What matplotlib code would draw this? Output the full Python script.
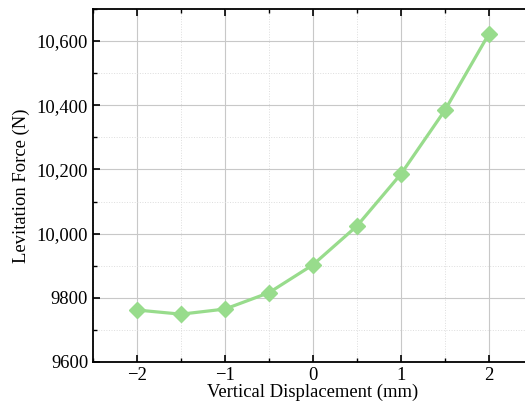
import numpy as np
import matplotlib
matplotlib.use("Agg")
import matplotlib.pyplot as plt
from matplotlib.ticker import MultipleLocator, FuncFormatter

# data
disp = [-2, -1.5, -1, -0.5, 0, 0.5, 1, 1.5, 2]
force = [9762, 9749, 9765, 9816, 9903, 10024, 10186, 10385, 10623]

plt.rcParams['font.family'] = ['Liberation Serif', 'DejaVu Serif']
plt.rcParams['font.size'] = 13.4

fig = plt.figure(figsize=(5.25, 4.07), dpi=100)
ax = fig.add_axes([93 / 525, 1 - 362 / 407, 440 / 525, 353 / 407])

ax.plot(disp, force, color='#98dc8c', lw=2.3, marker='D', ms=8, zorder=3)

ax.set_xlim(-2.5, 2.5)
ax.set_ylim(9600, 10700)
ax.xaxis.set_major_locator(MultipleLocator(1))
ax.xaxis.set_minor_locator(MultipleLocator(0.5))
ax.yaxis.set_major_locator(MultipleLocator(200))
ax.yaxis.set_minor_locator(MultipleLocator(100))
ax.yaxis.set_major_formatter(FuncFormatter(
    lambda v, p: f"{v:,.0f}" if v >= 10000 else f"{v:.0f}"))

ax.grid(which='major', color='#c8c8c8', lw=0.8)
ax.grid(which='minor', color='#dddddd', lw=0.7, ls=':')
ax.set_axisbelow(True)

ax.tick_params(which='both', direction='in', top=True, right=False)
ax.tick_params(which='major', length=5, width=1.2)
ax.tick_params(which='minor', length=3, width=1)
for s in ['left', 'bottom', 'top']:
    ax.spines[s].set_linewidth(1.3)
ax.spines['right'].set_visible(False)

ax.set_xlabel('Vertical Displacement (mm)', labelpad=0)
ax.set_ylabel('Levitation Force (N)', labelpad=5)

fig.savefig('out.png', dpi=100)
